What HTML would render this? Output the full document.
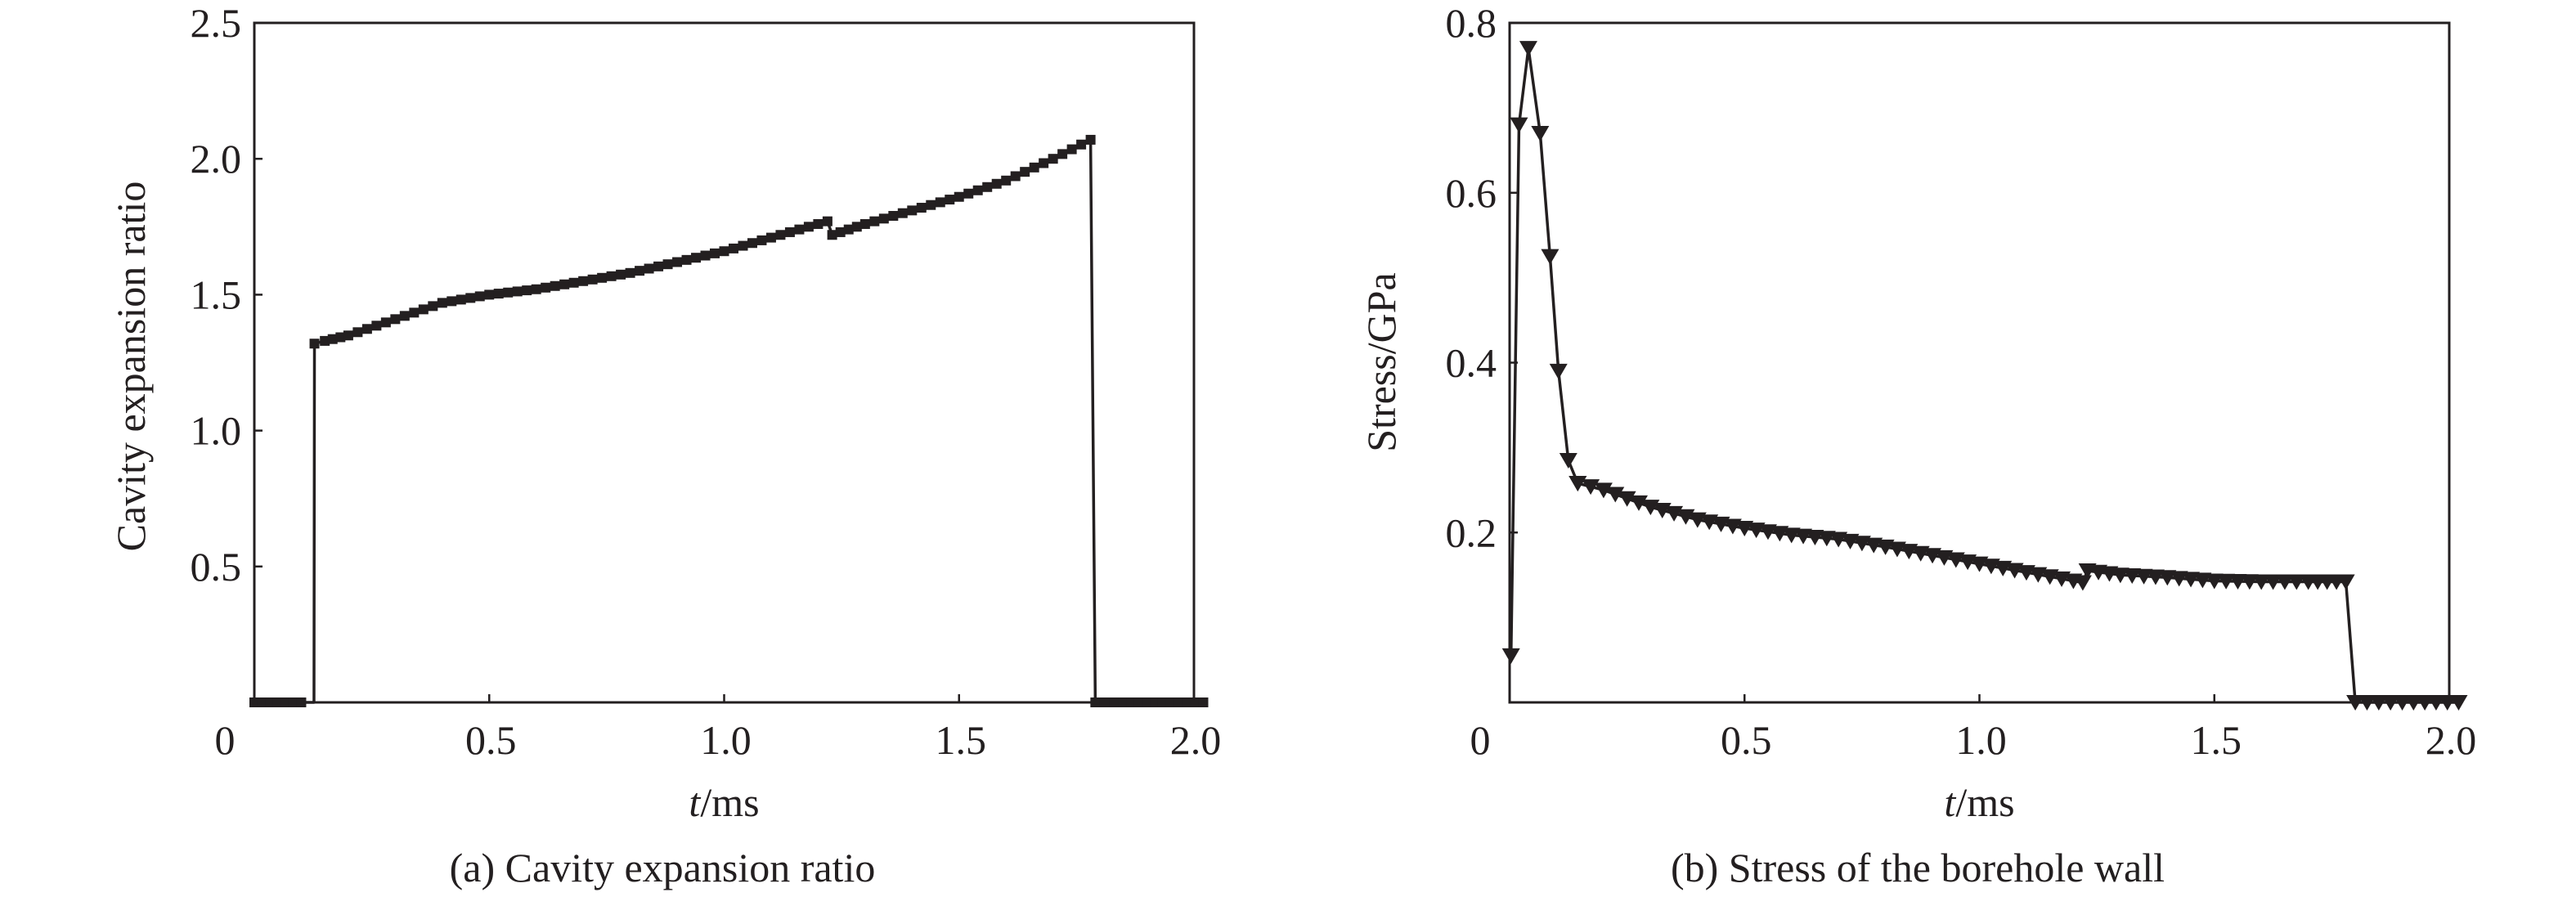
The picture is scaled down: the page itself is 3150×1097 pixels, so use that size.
<!DOCTYPE html>
<html><head><meta charset="utf-8"><style>
body{margin:0;background:#fff}
svg{display:block}
text{font-family:"Liberation Serif",serif;fill:#231f20}
</style></head><body>
<svg id="fig" width="3150" height="1097" viewBox="0 0 3150 1097" xmlns="http://www.w3.org/2000/svg"></svg>
<script>
// Panel (a) data: cavity expansion ratio
const aT=[0,0.05,0.1,0.127,0.128,0.15,0.2,0.3,0.4,0.5,0.6,0.7,0.8,0.9,1.0,1.1,1.2,1.22,1.23,1.3,1.4,1.5,1.6,1.7,1.78,1.79,1.85,1.9,1.95,2.02];
const aV=[0,0,0,0,1.32,1.33,1.35,1.41,1.47,1.50,1.52,1.55,1.58,1.62,1.66,1.71,1.76,1.77,1.72,1.76,1.81,1.86,1.92,2.00,2.07,0,0,0,0,0];
const aYTicks=[0.5,1.0,1.5,2.0,2.5];
const aYLabels=["0.5","1.0","1.5","2.0","2.5"];
// Panel (b) data: stress of borehole wall
const bT=[0.003,0.02,0.04,0.065,0.086,0.104,0.125,0.145,0.2,0.3,0.4,0.5,0.6,0.7,0.8,0.9,1.0,1.1,1.2,1.22,1.23,1.3,1.4,1.5,1.6,1.7,1.78,1.8,1.9,2.02];
const bV=[0.055,0.68,0.77,0.67,0.525,0.39,0.285,0.258,0.25,0.23,0.215,0.205,0.197,0.192,0.183,0.173,0.163,0.153,0.143,0.141,0.155,0.15,0.147,0.143,0.142,0.142,0.142,0,0,0];
const bYTicks=[0.2,0.4,0.6,0.8];
const bYLabels=["0.2","0.4","0.6","0.8"];
const xTicks=[0,0.5,1.0,1.5,2.0];
const xLabels=["0","0.5","1.0","1.5","2.0"];

const NS="http://www.w3.org/2000/svg";
const svg=document.getElementById('fig');
function mk(tag,attrs,parent){const e=document.createElementNS(NS,tag);for(const k in attrs)e.setAttribute(k,attrs[k]);(parent||svg).appendChild(e);return e;}

function panel(opt){
  const g=mk('g',{});
  
  
  const L=opt.left,R=opt.left+1149,T=28,B=859;
  const sx=t=>L+(t/2)*(R-L);
  const sy=v=>B-(v/opt.ymax)*(B-T);
  const fr=mk('rect',{x:L,y:T,width:R-L,height:B-T,fill:'none',stroke:'#231f20','stroke-width':3},g);
  
  
  opt.yTicks.forEach((v,i)=>{
    const y=sy(v);
    const tk=mk('line',{x1:L,x2:L+10,y1:y,y2:y,stroke:'#231f20','stroke-width':2.5},g);
    
    
    const tx=mk('text',{x:L-16,y:y+17,'font-size':50,'text-anchor':'end'},g);
    
    
    tx.textContent=opt.yLabels[i];
  });
  xTicks.forEach((t,i)=>{
    const x=sx(t);
    if(t>0&&t<2){const tk=mk('line',{x1:x,x2:x,y1:B,y2:B-10,stroke:'#231f20','stroke-width':2.5},g);
    
    }
    const tx=mk('text',{x:t===0?x-36:x+2,y:922,'font-size':50,'text-anchor':'middle'},g);
    
    
    tx.textContent=xLabels[i];
  });
  const pts=opt.t.map((t,i)=>[sx(t),sy(opt.v[i])]);
  const pl=mk('polyline',{points:pts.map(p=>p.join(',')).join(' '),fill:'none',stroke:'#231f20','stroke-width':3.5,'stroke-linejoin':'round'},g);
  
  
  const mpos=[];
  opt.t.forEach((t,i)=>{ if(t<=opt.denseStart) mpos.push(pts[i]); });
  for(let i=0;i<pts.length-1;i++){
    const [x1,y1]=pts[i],[x2,y2]=pts[i+1];
    if(opt.t[i]<opt.denseStart) continue;
    const dx=x2-x1; if(dx<1) continue;
    const n=Math.max(1,Math.round(dx/opt.step));
    for(let k=0;k<n;k++){const f=k/n;mpos.push([x1+f*dx,y1+f*(y2-y1)]);}
  }
  mpos.push(pts[pts.length-1]);
  mpos.forEach(([x,y])=>{
    let m;
    if(opt.marker==='sq'){
      m=mk('rect',{x:x-6,y:y-6,width:12,height:12,fill:'#231f20'},g);
    }else{
      m=mk('polygon',{points:`${x-11},${y-9} ${x+11},${y-9} ${x},${y+10}`,fill:'#231f20'},g);
    }
    
    
  });
  const yl=mk('text',{x:0,y:0,'font-size':50,'text-anchor':'middle',transform:`translate(${opt.ylx},${opt.yly}) rotate(-90)`},g);
  
  
  yl.textContent=opt.ylabel;
  const xl=mk('text',{x:(L+R)/2,y:998,'font-size':50,'text-anchor':'middle'},g);
  
  
  const ti=mk('tspan',{'font-style':'italic'},xl);ti.textContent='t';
  const tr=mk('tspan',{},xl);tr.textContent='/ms';
  const cap=mk('text',{x:opt.capx,y:1078,'font-size':50,'text-anchor':'middle'},g);
  
  
  cap.textContent=opt.caption;
}
panel({name:'panel-a-cavity-expansion',left:311,ymax:2.5,yTicks:aYTicks,yLabels:aYLabels,t:aT,v:aV,marker:'sq',step:11,denseStart:0,ylabel:'Cavity expansion ratio',ylx:177,yly:448,capx:810,caption:'(a) Cavity expansion ratio'});
panel({name:'panel-b-borehole-stress',left:1846,ymax:0.8,yTicks:bYTicks,yLabels:bYLabels,t:bT,v:bV,marker:'tri',step:13,denseStart:0.145,ylabel:'Stress/GPa',ylx:1706,yly:443,capx:2345,caption:'(b) Stress of the borehole wall'});
</script>
</body></html>
